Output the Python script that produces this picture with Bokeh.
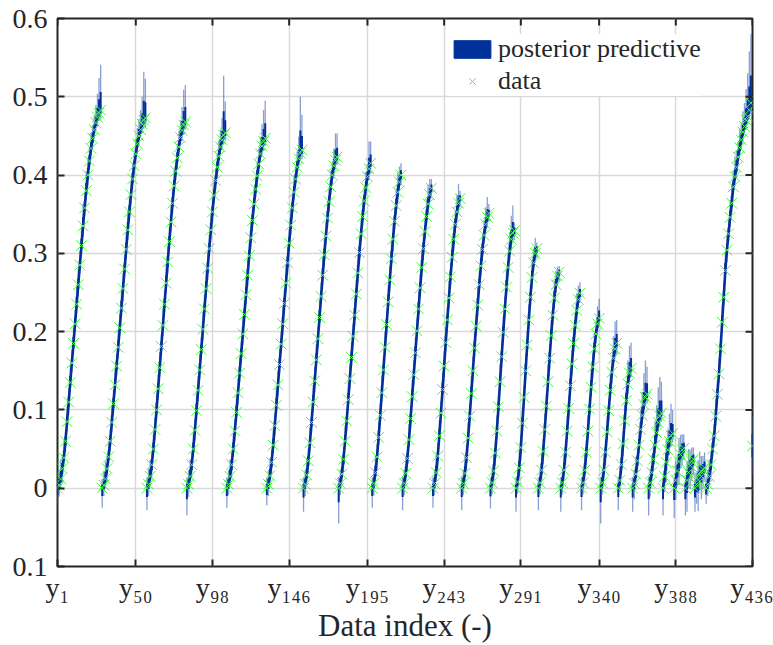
import numpy as np
from bokeh.plotting import figure
from bokeh.models import FixedTicker, Range1d, Legend, LegendItem, ColumnDataSource
from bokeh.embed import file_html
from bokeh.resources import INLINE

# ---------------- data ----------------
# observed data, one list per loading segment (consecutive indices starting at y1)
seg01 = [0.0, 0.004, 0.012, 0.025, 0.039, 0.06, 0.085, 0.11, 0.135, 0.16, 0.185, 0.21, 0.235, 0.26, 0.285, 0.31, 0.335, 0.358, 0.38, 0.40, 0.418, 0.434, 0.447, 0.458, 0.467, 0.474, 0.479, 0.483]
seg02 = [0.0, 0.004, 0.012, 0.025, 0.04, 0.06, 0.084, 0.108, 0.132, 0.156, 0.18, 0.205, 0.23, 0.255, 0.28, 0.305, 0.33, 0.353, 0.375, 0.395, 0.412, 0.427, 0.44, 0.45, 0.458, 0.465, 0.47, 0.473]
seg03 = [0.0, 0.005, 0.015, 0.03, 0.05, 0.075, 0.10, 0.127, 0.154, 0.181, 0.208, 0.235, 0.262, 0.289, 0.315, 0.34, 0.364, 0.386, 0.405, 0.422, 0.436, 0.448, 0.457, 0.464, 0.468]
seg04 = [0.0, 0.005, 0.015, 0.03, 0.05, 0.074, 0.099, 0.125, 0.151, 0.177, 0.203, 0.229, 0.255, 0.281, 0.306, 0.33, 0.353, 0.374, 0.393, 0.41, 0.424, 0.436, 0.445, 0.451, 0.454]
seg05 = [0.0, 0.005, 0.015, 0.03, 0.05, 0.073, 0.097, 0.122, 0.147, 0.172, 0.197, 0.222, 0.247, 0.272, 0.297, 0.32, 0.342, 0.363, 0.382, 0.399, 0.414, 0.427, 0.437, 0.443, 0.447]
seg06 = [0.0, 0.005, 0.016, 0.033, 0.055, 0.08, 0.106, 0.132, 0.158, 0.184, 0.21, 0.236, 0.262, 0.288, 0.313, 0.336, 0.358, 0.378, 0.395, 0.41, 0.421, 0.428, 0.432]
seg07 = [0.0, 0.005, 0.017, 0.035, 0.058, 0.084, 0.11, 0.137, 0.164, 0.191, 0.218, 0.245, 0.272, 0.298, 0.322, 0.345, 0.366, 0.385, 0.40, 0.412, 0.419, 0.423]
seg08 = [0.0, 0.006, 0.018, 0.037, 0.06, 0.086, 0.113, 0.14, 0.167, 0.194, 0.221, 0.248, 0.275, 0.301, 0.325, 0.347, 0.367, 0.384, 0.398, 0.408, 0.415]
seg09 = [0.0, 0.006, 0.02, 0.04, 0.065, 0.093, 0.122, 0.151, 0.18, 0.209, 0.238, 0.266, 0.293, 0.318, 0.341, 0.361, 0.378, 0.391, 0.40]
seg10 = [0.0, 0.006, 0.019, 0.038, 0.062, 0.089, 0.117, 0.145, 0.173, 0.201, 0.229, 0.256, 0.282, 0.306, 0.328, 0.347, 0.363, 0.375, 0.383]
seg11 = [0.0, 0.006, 0.02, 0.041, 0.067, 0.096, 0.126, 0.156, 0.186, 0.215, 0.243, 0.27, 0.295, 0.318, 0.337, 0.353, 0.364, 0.37]
seg12 = [0.0, 0.006, 0.019, 0.039, 0.064, 0.092, 0.121, 0.15, 0.179, 0.207, 0.234, 0.26, 0.284, 0.305, 0.323, 0.337, 0.346, 0.351]
seg13 = [0.0, 0.007, 0.022, 0.045, 0.073, 0.104, 0.136, 0.168, 0.199, 0.229, 0.257, 0.282, 0.303, 0.318, 0.326, 0.329]
seg14 = [0.0, 0.008, 0.026, 0.052, 0.083, 0.116, 0.15, 0.183, 0.215, 0.244, 0.269, 0.288, 0.30, 0.306]
seg15 = [0.0, 0.007, 0.023, 0.047, 0.075, 0.105, 0.136, 0.166, 0.195, 0.221, 0.243, 0.26, 0.271, 0.276]
seg16 = [0.0, 0.007, 0.023, 0.046, 0.073, 0.102, 0.131, 0.159, 0.185, 0.208, 0.227, 0.241, 0.249]
seg17 = [0.0, 0.007, 0.023, 0.046, 0.073, 0.101, 0.129, 0.155, 0.178, 0.197, 0.21, 0.217]
seg18 = [0.0, 0.007, 0.023, 0.046, 0.072, 0.099, 0.125, 0.148, 0.166, 0.178, 0.185]
seg19 = [0.0, 0.01, 0.03, 0.057, 0.086, 0.112, 0.133, 0.147, 0.153]
seg20 = [0.0, 0.006, 0.018, 0.035, 0.055, 0.075, 0.093, 0.107, 0.116, 0.12]
seg21 = [0.0, 0.007, 0.02, 0.037, 0.055, 0.071, 0.084, 0.092, 0.096]
seg22 = [0.0, 0.015, 0.033, 0.049, 0.06, 0.067, 0.07]
seg23 = [0.0, 0.01, 0.022, 0.034, 0.043, 0.049, 0.051]
seg24 = [0.0, 0.01, 0.02, 0.029, 0.034, 0.037]
seg25 = [0.0, 0.005, 0.011, 0.017, 0.021, 0.024, 0.026]
seg26 = [0.0, 0.005, 0.015, 0.03, 0.05, 0.067, 0.092, 0.12, 0.146, 0.178, 0.212, 0.244, 0.278, 0.304, 0.325, 0.346, 0.364, 0.385, 0.398, 0.41, 0.423, 0.435, 0.445, 0.455, 0.462, 0.47, 0.475, 0.483, 0.492]
seg27 = [0.054]

# posterior predictive: distance below / above the data of the interval ends (units of 0.001)
dn01 = [22, 15, 12, 18, 10, 14, 12, 16, 10, 12, 14, 10, 12, 15, 10, 12, 14, 10, 12, 15, 12, 10, 14, 12, 10, 12, 10, 12]
up01 = [15, 20, 25, 18, 22, 15, 20, 18, 22, 16, 20, 18, 25, 20, 18, 22, 28, 20, 25, 22, 18, 20, 16, 18, 22, 30, 45, 58]
dn02 = [25, 14, 12, 16, 10, 13, 12, 15, 11, 12, 14, 10, 12, 16, 10, 12, 13, 10, 12, 14, 12, 10, 13, 12, 10, 12, 11, 12]
up02 = [12, 18, 22, 16, 20, 15, 22, 18, 20, 16, 22, 18, 24, 20, 18, 22, 25, 20, 18, 20, 16, 18, 20, 22, 25, 35, 62, 50]
dn03 = [28, 15, 12, 18, 10, 13, 12, 14, 11, 12, 14, 10, 12, 15, 10, 12, 13, 10, 12, 14, 12, 10, 13, 12, 10]
up03 = [14, 20, 22, 16, 20, 15, 22, 18, 20, 16, 22, 18, 24, 20, 18, 22, 18, 20, 16, 18, 20, 22, 30, 45, 47]
dn04 = [35, 16, 12, 18, 10, 13, 12, 14, 11, 12, 14, 10, 12, 15, 10, 12, 13, 10, 12, 14, 12, 10, 13, 12, 10]
up04 = [14, 18, 22, 16, 20, 15, 22, 18, 20, 16, 22, 18, 24, 20, 18, 22, 18, 20, 16, 18, 20, 22, 28, 76, 40]
dn05 = [25, 14, 12, 18, 10, 13, 12, 14, 11, 12, 14, 10, 12, 15, 10, 12, 13, 10, 12, 14, 12, 10, 13, 12, 10]
up05 = [14, 18, 22, 16, 20, 15, 22, 18, 20, 16, 22, 18, 24, 20, 18, 22, 18, 20, 16, 18, 20, 22, 28, 40, 48]
dn06 = [22, 15, 12, 16, 10, 13, 12, 14, 11, 12, 14, 10, 12, 15, 10, 12, 13, 10, 12, 14, 12, 10, 12]
up06 = [14, 18, 22, 16, 20, 15, 22, 18, 20, 16, 22, 18, 24, 20, 18, 22, 18, 20, 16, 20, 28, 72, 45]
dn07 = [30, 15, 12, 16, 10, 13, 12, 14, 11, 12, 14, 10, 12, 15, 10, 12, 13, 10, 12, 14, 12, 10]
up07 = [14, 18, 22, 16, 20, 15, 22, 18, 20, 16, 22, 18, 24, 20, 18, 22, 18, 20, 16, 22, 34, 30]
dn08 = [45, 15, 12, 16, 10, 13, 12, 14, 11, 12, 14, 10, 12, 15, 10, 12, 13, 10, 12, 14, 12]
up08 = [14, 18, 22, 16, 20, 15, 22, 18, 20, 16, 22, 18, 24, 20, 18, 22, 18, 20, 16, 35, 28]
dn09 = [25, 15, 12, 16, 10, 13, 12, 14, 11, 12, 14, 10, 12, 15, 10, 12, 13, 10, 12]
up09 = [14, 18, 22, 16, 20, 15, 22, 18, 20, 16, 22, 18, 24, 20, 18, 22, 25, 20, 15]
dn10 = [28, 15, 12, 16, 10, 13, 12, 14, 11, 12, 14, 10, 12, 15, 10, 12, 13, 10, 12]
up10 = [14, 18, 22, 16, 20, 15, 22, 18, 20, 16, 22, 18, 24, 20, 18, 22, 25, 20, 12]
dn11 = [25, 15, 12, 16, 10, 13, 12, 14, 11, 12, 14, 10, 12, 15, 10, 12, 13, 10]
up11 = [14, 18, 22, 16, 20, 15, 22, 18, 20, 16, 22, 18, 24, 20, 18, 22, 25, 10]
dn12 = [28, 15, 12, 16, 10, 13, 12, 14, 11, 12, 14, 10, 12, 15, 10, 12, 13, 10]
up12 = [14, 18, 22, 16, 20, 15, 22, 18, 20, 16, 22, 18, 24, 20, 18, 22, 26, 12]
dn13 = [26, 15, 12, 16, 10, 13, 12, 14, 11, 12, 14, 10, 12, 15, 10, 12]
up13 = [14, 18, 22, 16, 20, 15, 22, 18, 20, 16, 22, 18, 24, 30, 35, 10]
dn14 = [30, 15, 12, 16, 10, 13, 12, 14, 11, 12, 14, 10, 12, 12]
up14 = [14, 18, 22, 16, 20, 15, 22, 18, 20, 16, 22, 18, 20, 8]
dn15 = [28, 15, 12, 16, 10, 13, 12, 14, 11, 12, 14, 10, 12, 12]
up15 = [14, 18, 22, 16, 20, 15, 22, 18, 20, 16, 22, 18, 12, 8]
dn16 = [30, 15, 12, 16, 10, 13, 12, 14, 11, 12, 14, 10, 12]
up16 = [14, 18, 22, 16, 20, 15, 22, 18, 20, 16, 22, 18, 14]
dn17 = [28, 15, 12, 16, 10, 13, 12, 14, 11, 12, 14, 10]
up17 = [14, 18, 22, 16, 20, 15, 22, 18, 20, 16, 22, 25]
dn18 = [45, 15, 12, 16, 10, 13, 12, 14, 11, 12, 14]
up18 = [14, 18, 22, 16, 20, 15, 22, 18, 28, 35, 30]
dn19 = [28, 15, 12, 16, 10, 13, 12, 14, 11]
up19 = [14, 18, 22, 16, 20, 25, 30, 35, 33]
dn20 = [30, 20, 12, 16, 10, 13, 12, 14, 11, 12]
up20 = [14, 18, 22, 16, 20, 25, 30, 40, 47, 35]
dn21 = [35, 18, 12, 16, 10, 13, 12, 14, 11]
up21 = [14, 18, 22, 20, 30, 35, 45, 50, 40]
dn22 = [35, 20, 25, 16, 18, 13, 12]
up22 = [14, 18, 30, 25, 35, 41, 30]
dn23 = [38, 25, 20, 30, 18, 20, 15]
up23 = [14, 25, 20, 30, 25, 20, 18]
dn24 = [35, 40, 20, 30, 25, 20]
up24 = [14, 25, 30, 20, 18, 15]
dn25 = [30, 25, 40, 20, 35, 25, 15]
up25 = [20, 15, 25, 30, 20, 17, 20]
dn26 = [20, 15, 12, 16, 10, 13, 12, 14, 11, 12, 14, 10, 12, 15, 10, 12, 13, 10, 12, 14, 12, 10, 13, 12, 10, 12, 11, 12, 14]
up26 = [14, 18, 22, 16, 20, 15, 22, 18, 20, 16, 22, 18, 24, 20, 18, 22, 25, 20, 26, 22, 20, 24, 22, 26, 30, 40, 55, 75, 88]
dn27 = [36]
up27 = [38]

x_tick_pos = [1, 50, 98, 146, 195, 243, 291, 340, 388, 436]
x_tick_labels = ["y₁", "y₅₀", "y₉₈", "y₁₄₆", "y₁₉₅", "y₂₄₃", "y₂₉₁", "y₃₄₀", "y₃₈₈", "y₄₃₆"]
y_tick_pos = [-0.1, 0.0, 0.1, 0.2, 0.3, 0.4, 0.5, 0.6]
y_tick_labels = ["0.1", "0", "0.1", "0.2", "0.3", "0.4", "0.5", "0.6"]
x_lim = (1, 436)
y_lim = (-0.1, 0.6)

# ---------------- assemble ----------------
segs = [seg01, seg02, seg03, seg04, seg05, seg06, seg07, seg08, seg09, seg10, seg11, seg12, seg13,
        seg14, seg15, seg16, seg17, seg18, seg19, seg20, seg21, seg22, seg23, seg24, seg25, seg26, seg27]
dns = [dn01, dn02, dn03, dn04, dn05, dn06, dn07, dn08, dn09, dn10, dn11, dn12, dn13,
       dn14, dn15, dn16, dn17, dn18, dn19, dn20, dn21, dn22, dn23, dn24, dn25, dn26, dn27]
ups = [up01, up02, up03, up04, up05, up06, up07, up08, up09, up10, up11, up12, up13,
       up14, up15, up16, up17, up18, up19, up20, up21, up22, up23, up24, up25, up26, up27]

data = np.concatenate([np.array(s, float) for s in segs])
dn = np.concatenate([np.array(s, float) for s in dns]) / 1000.0
up = np.concatenate([np.array(s, float) for s in ups]) / 1000.0
idx = np.arange(1, len(data) + 1)

src = ColumnDataSource(dict(
    x=idx, y=data,
    lo_out=data - dn, hi_out=data + up,
    lo_in=data - 0.4 * dn, hi_in=data + 0.4 * up,
))

# the central (median) line of the posterior predictive, one polyline per segment
starts = np.cumsum([0] + [len(s) for s in segs])
ml_xs = [list(idx[a:b]) for a, b in zip(starts[:-1], starts[1:])]
ml_ys = [list(data[a:b]) for a, b in zip(starts[:-1], starts[1:])]

FONT = "Liberation Serif"
BLUE = "#00309a"
INK = "#262626"
W, H = 773, 645
BL, BR, BT, BB = 57, 21, 18, 79
FRAME_W, FRAME_H = W - BL - BR, H - BT - BB

p = figure(width=W, height=H,
           x_range=Range1d(*x_lim), y_range=Range1d(*y_lim),
           output_backend="svg", toolbar_location=None,
           min_border_left=BL, min_border_right=BR, min_border_top=BT, min_border_bottom=BB)
p.background_fill_color = "white"
p.border_fill_color = "white"
p.outline_line_color = INK
p.outline_line_width = 2

p.xgrid.ticker = FixedTicker(ticks=x_tick_pos)
p.ygrid.ticker = FixedTicker(ticks=y_tick_pos)
for g in (p.xgrid[0], p.ygrid[0]):
    g.grid_line_color = "#d9d9d9"
    g.grid_line_width = 1.5

# posterior predictive
p.segment(x0="x", y0="lo_out", x1="x", y1="hi_out", source=src,
          line_color="#3a5fb5", line_alpha=0.6, line_width=1.3)
p.segment(x0="x", y0="lo_in", x1="x", y1="hi_in", source=src,
          line_color=BLUE, line_width=2.0)
p.multi_line(xs=ml_xs, ys=ml_ys, line_color=BLUE, line_width=2.6)
legend_patch = p.quad(source=ColumnDataSource(dict(l=[np.nan], r=[np.nan], t=[np.nan], b=[np.nan])),
                      left="l", right="r", top="t", bottom="b", fill_color=BLUE, line_color=BLUE)
# data
pts = p.scatter(x="x", y="y", source=src, marker="x", size=15,
                line_color="#45f545", line_width=1)

# inward ticks on the top and right edges (box like the reference)
tick_px = 7
dy = tick_px * (y_lim[1] - y_lim[0]) / FRAME_H
dx = tick_px * (x_lim[1] - x_lim[0]) / FRAME_W
p.segment(x0=x_tick_pos, y0=[y_lim[1]] * len(x_tick_pos), x1=x_tick_pos,
          y1=[y_lim[1] - dy] * len(x_tick_pos), line_color=INK, line_width=2)
p.segment(x0=[x_lim[1]] * len(y_tick_pos), y0=y_tick_pos, x1=[x_lim[1] - dx] * len(y_tick_pos),
          y1=y_tick_pos, line_color=INK, line_width=2)

# axes
xax = p.xaxis[0]
yax = p.yaxis[0]
xax.ticker = FixedTicker(ticks=x_tick_pos)
xax.major_label_overrides = {t: l for t, l in zip(x_tick_pos, x_tick_labels)}
xax.axis_label = "Data index (-)"
xax.axis_label_text_font = FONT
xax.axis_label_text_font_size = "31px"
xax.axis_label_text_font_style = "normal"
xax.axis_label_text_color = INK
xax.axis_label_standoff = 2
xax.major_label_standoff = 5

yax.ticker = FixedTicker(ticks=y_tick_pos)
yax.major_label_overrides = {t: l for t, l in zip(y_tick_pos, y_tick_labels)}
yax.major_label_standoff = 10

for ax in (xax, yax):
    ax.axis_line_color = None
    ax.major_tick_in = 7
    ax.major_tick_out = 0
    ax.major_tick_line_width = 2
    ax.major_tick_line_color = INK
    ax.minor_tick_line_color = None
    ax.major_label_text_font = FONT
    ax.major_label_text_font_size = "28px"
    ax.major_label_text_color = INK

legend = Legend(items=[LegendItem(label="posterior predictive", renderers=[legend_patch]),
                       LegendItem(label="data", renderers=[pts])],
                location=(392, 470))
legend.border_line_color = None
legend.background_fill_color = "white"
legend.background_fill_alpha = 1.0
legend.glyph_width = 46
legend.glyph_height = 22
legend.label_text_font = FONT
legend.label_text_font_size = "26px"
legend.label_text_color = INK
legend.label_standoff = 3
legend.spacing = 2
legend.padding = 2
legend.margin = 0
p.add_layout(legend, "center")

open("out.html", "w").write(file_html(p, INLINE))
